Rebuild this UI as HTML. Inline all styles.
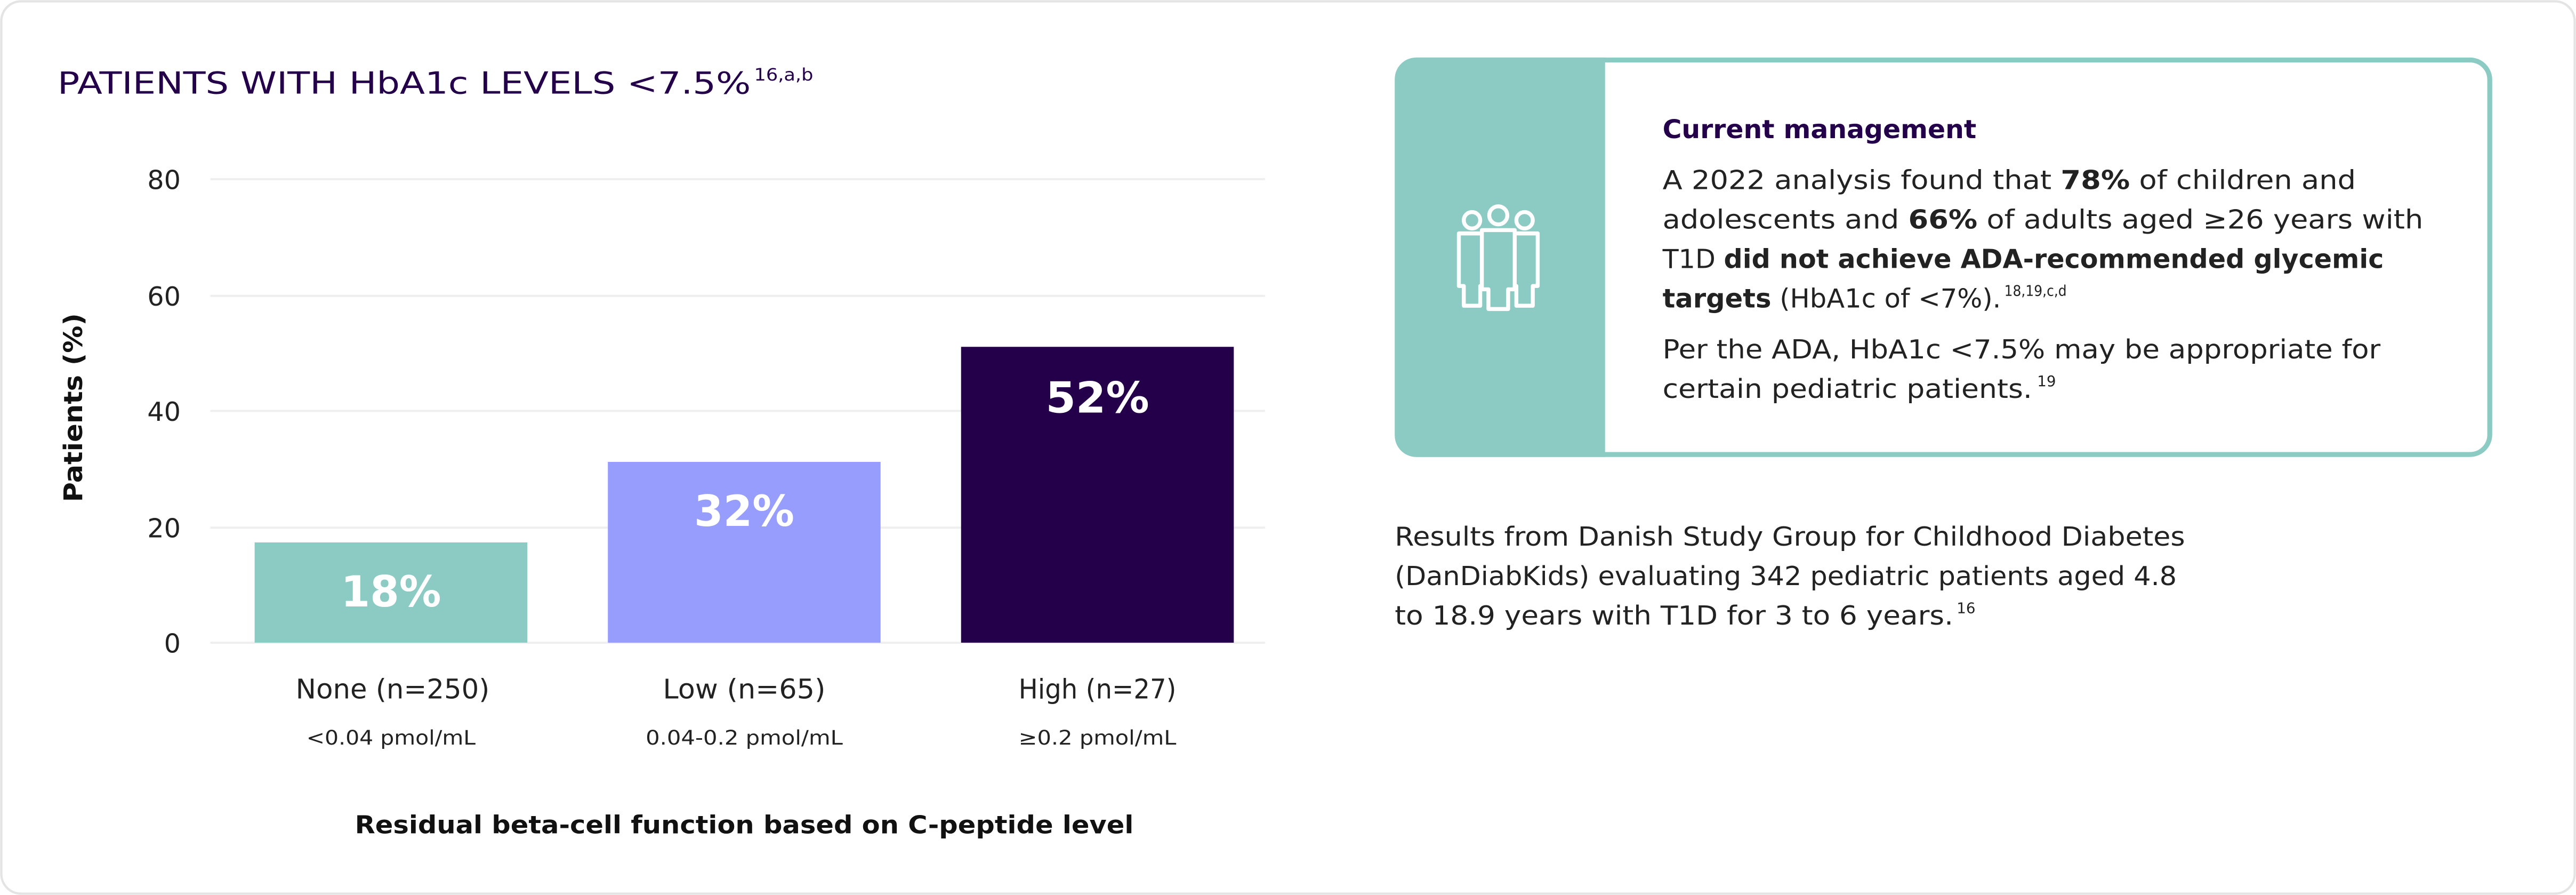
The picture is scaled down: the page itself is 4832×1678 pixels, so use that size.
<!DOCTYPE html>
<html><head><meta charset="utf-8"><style>
html,body{margin:0;padding:0;background:#fff;}
svg{display:block;}
text{font-family:"DejaVu Sans","Liberation Sans",sans-serif;}
</style></head><body>
<svg width="4832" height="1678" viewBox="0 0 1568 544.5" xmlns="http://www.w3.org/2000/svg">
<rect x="0.8" y="0.8" width="1566.4" height="542.9" rx="12" fill="#fff" stroke="#e4e4e4" stroke-width="1.4"/>
<text x="35" y="57" font-size="18.5" fill="#24004a" textLength="422" lengthAdjust="spacingAndGlyphs">PATIENTS WITH HbA1c LEVELS &lt;7.5%</text>
<text x="459" y="49" font-size="10.5" fill="#24004a" textLength="36" lengthAdjust="spacingAndGlyphs">16,a,b</text>
<g stroke="#efefef" stroke-width="1.3">
<line x1="128" y1="109" x2="770" y2="109"/>
<line x1="128" y1="180" x2="770" y2="180"/>
<line x1="128" y1="250" x2="770" y2="250"/>
<line x1="128" y1="321" x2="770" y2="321"/>
<line x1="128" y1="391" x2="770" y2="391"/>
</g>
<g font-size="16" fill="#222" text-anchor="end">
<text x="110" y="115">80</text><text x="110" y="186">60</text><text x="110" y="256">40</text><text x="110" y="327">20</text><text x="110" y="397">0</text>
</g>
<text transform="translate(50,248) rotate(-90)" font-size="15.5" font-weight="bold" fill="#111" text-anchor="middle" textLength="115" lengthAdjust="spacingAndGlyphs">Patients (%)</text>
<rect x="155" y="330" width="166" height="61" fill="#8ccbc3"/>
<rect x="370" y="281" width="166" height="110" fill="#979dfd"/>
<rect x="585" y="211" width="166" height="180" fill="#24004a"/>
<g font-size="26" font-weight="bold" fill="#fff" text-anchor="middle">
<text x="238" y="369" textLength="61" lengthAdjust="spacingAndGlyphs">18%</text><text x="453" y="320" textLength="61" lengthAdjust="spacingAndGlyphs">32%</text><text x="668" y="251" textLength="63" lengthAdjust="spacingAndGlyphs">52%</text>
</g>
<g font-size="16.5" fill="#222" text-anchor="middle">
<text x="239" y="425" textLength="118" lengthAdjust="spacingAndGlyphs">None (n=250)</text><text x="453" y="425" textLength="99" lengthAdjust="spacingAndGlyphs">Low (n=65)</text><text x="668" y="425" textLength="96" lengthAdjust="spacingAndGlyphs">High (n=27)</text>
</g>
<g font-size="12" fill="#222" text-anchor="middle">
<text x="238" y="453" textLength="103" lengthAdjust="spacingAndGlyphs">&lt;0.04 pmol/mL</text><text x="453" y="453" textLength="120" lengthAdjust="spacingAndGlyphs">0.04-0.2 pmol/mL</text><text x="668" y="453" textLength="96" lengthAdjust="spacingAndGlyphs">≥0.2 pmol/mL</text>
</g>
<text x="453" y="507" font-size="15" font-weight="bold" fill="#111" text-anchor="middle" textLength="474" lengthAdjust="spacingAndGlyphs">Residual beta-cell function based on C-peptide level</text>

<rect x="850.5" y="36.5" width="665" height="240" rx="12" fill="#fff" stroke="#8ccbc3" stroke-width="3"/>
<path d="M862 35 H977 V278 H862 A13 13 0 0 1 849 265 V48 A13 13 0 0 1 862 35 Z" fill="#8ccbc3"/>
<g fill="none" stroke="#fff" stroke-width="2.4" stroke-linejoin="round">
<circle cx="896" cy="134" r="5"/><circle cx="928" cy="134" r="5"/><circle cx="912" cy="131" r="5.5"/>
<path d="M888 142 h16 v32 h-3 v12 h-10 v-12 h-3 z" />
<path d="M920 142 h16 v32 h-3 v12 h-10 v-12 h-3 z"/>
<path d="M902 140 h20 v36 h-4 v12 h-12 v-12 h-4 z" fill="#8ccbc3"/>
</g>
<text x="1012" y="84" font-size="15.5" font-weight="bold" fill="#24004a" textLength="191" lengthAdjust="spacingAndGlyphs">Current management</text>
<g font-size="16" fill="#222">
<text x="1012" y="115" textLength="422" lengthAdjust="spacingAndGlyphs">A 2022 analysis found that <tspan font-weight="bold">78%</tspan> of children and</text>
<text x="1012" y="139" textLength="463" lengthAdjust="spacingAndGlyphs">adolescents and <tspan font-weight="bold">66%</tspan> of adults aged ≥26 years with</text>
<text x="1012" y="163" textLength="439" lengthAdjust="spacingAndGlyphs">T1D <tspan font-weight="bold">did not achieve ADA-recommended glycemic</tspan></text>
<text x="1012" y="187" textLength="206" lengthAdjust="spacingAndGlyphs"><tspan font-weight="bold">targets</tspan> (HbA1c of &lt;7%).</text>
<text x="1220" y="180" font-size="9" textLength="38" lengthAdjust="spacingAndGlyphs">18,19,c,d</text>
<text x="1012" y="218" textLength="437" lengthAdjust="spacingAndGlyphs">Per the ADA, HbA1c &lt;7.5% may be appropriate for</text>
<text x="1012" y="242" textLength="225" lengthAdjust="spacingAndGlyphs">certain pediatric patients.</text>
<text x="1240" y="235" font-size="9">19</text>
<text x="849" y="332" textLength="481" lengthAdjust="spacingAndGlyphs">Results from Danish Study Group for Childhood Diabetes</text>
<text x="849" y="356" textLength="476" lengthAdjust="spacingAndGlyphs">(DanDiabKids) evaluating 342 pediatric patients aged 4.8</text>
<text x="849" y="380" textLength="340" lengthAdjust="spacingAndGlyphs">to 18.9 years with T1D for 3 to 6 years.</text>
<text x="1191" y="373" font-size="9">16</text>
</g>
</svg>
</body></html>
